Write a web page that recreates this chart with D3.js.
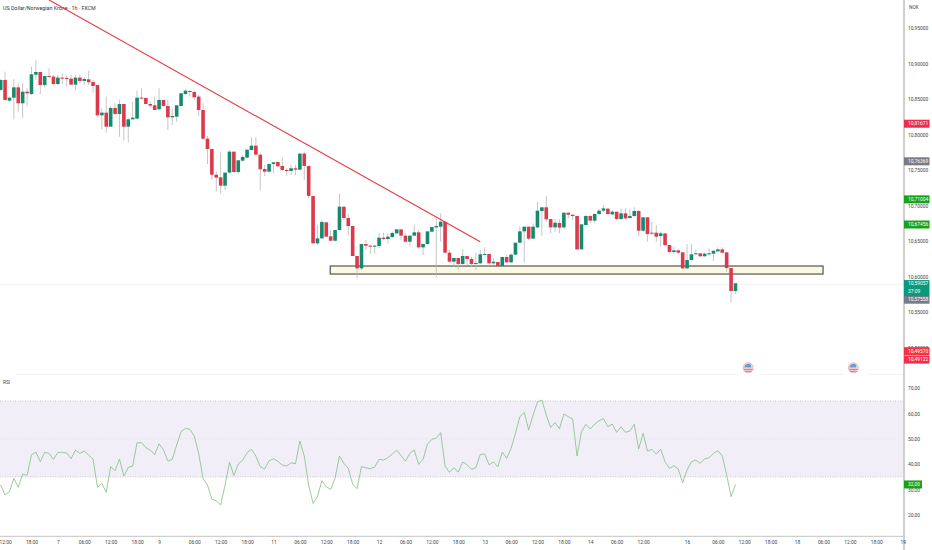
<!DOCTYPE html>
<html>
<head>
<meta charset="utf-8">
<script src="https://cdn.jsdelivr.net/npm/d3@7"></script>
<style>
    html, body { margin: 0; padding: 0; background: #fff; overflow: hidden; }
    svg { display: block; }
    text { font-family: Roboto, "Liberation Sans", sans-serif; }
</style>
</head>
<body>
<svg id="chart"></svg>
<script>
// hourly candles
const opens = [
    10.8632,10.8773,10.8481,10.8523,10.8669,10.8444,10.8608,10.8575,10.8848,10.8885,
    10.8702,10.8829,10.8820,10.8716,10.8806,10.8801,10.8791,10.8707,10.8806,10.8759,
    10.8782,10.8744,10.8702,10.8274,10.8312,10.8114,10.8378,10.8293,10.8434,10.8114,
    10.8218,10.8227,10.8523,10.8519,10.8434,10.8415,10.8359,10.8491,10.8406,10.8246,
    10.8255,10.8406,10.8575,10.8617,10.8603,10.8538,10.8349,10.7945,10.7799,10.7437,
    10.7400,10.7282,10.7466,10.7762,10.7475,10.7635,10.7677,10.7785,10.7846,10.7719,
    10.7517,10.7480,10.7588,10.7616,10.7560,10.7503,10.7489,10.7527,10.7508,10.7734,
    10.7560,10.7136,10.6469,10.6539,10.6765,10.6568,10.6506,10.6657,10.6986,10.6826,
    10.6713,10.6290,10.6116,10.6460,10.6436,10.6422,10.6431,10.6549,10.6530,10.6558,
    10.6610,10.6666,10.6577,10.6492,10.6577,10.6624,10.6412,10.6460,10.6633,10.6694,
    10.6704,10.6774,10.6337,10.6210,10.6262,10.6178,10.6290,10.6248,10.6178,10.6187,
    10.6309,10.6319,10.6187,10.6206,10.6149,10.6276,10.6201,10.6309,10.6478,10.6638,
    10.6704,10.6535,10.6694,10.6925,10.6977,10.6812,10.6694,10.6756,10.6694,10.6901,
    10.6873,10.6854,10.6384,10.6727,10.6854,10.6789,10.6883,10.6930,10.6958,10.6878,
    10.6915,10.6812,10.6892,10.6826,10.6854,10.6925,10.6647,10.6836,10.6619,10.6619,
    10.6572,10.6610,10.6445,10.6347,10.6370,10.6342,10.6116,10.6234,10.6314,10.6328,
    10.6286,10.6319,10.6323,10.6356,10.6384,10.6342,10.6121,10.5797
];
const highs = [
    10.8782,10.8890,10.8538,10.8782,10.8726,10.8726,10.8655,10.8961,10.9055,10.8885,
    10.8829,10.8937,10.8843,10.8843,10.8867,10.8843,10.8843,10.8843,10.8843,10.8810,
    10.8900,10.8773,10.8702,10.8373,10.8538,10.8406,10.8444,10.8491,10.8434,10.8232,
    10.8467,10.8622,10.8655,10.8519,10.8467,10.8538,10.8655,10.8491,10.8491,10.8373,
    10.8415,10.8585,10.8641,10.8632,10.8622,10.8561,10.8444,10.7983,10.7799,10.7480,
    10.7762,10.7466,10.7785,10.7762,10.7640,10.7715,10.7790,10.7964,10.7964,10.7748,
    10.7574,10.7597,10.7611,10.7621,10.7682,10.7527,10.7574,10.7574,10.7738,10.7762,
    10.7560,10.7136,10.6727,10.6798,10.6765,10.6657,10.6657,10.7174,10.6986,10.6883,
    10.6713,10.6290,10.6460,10.6516,10.6445,10.6445,10.6619,10.6619,10.6610,10.6633,
    10.6666,10.6666,10.6610,10.6577,10.6727,10.6657,10.6460,10.6638,10.6699,10.6845,
    10.6892,10.6774,10.6375,10.6262,10.6262,10.6384,10.6290,10.6281,10.6337,10.6375,
    10.6412,10.6319,10.6257,10.6206,10.6281,10.6305,10.6328,10.6478,10.6704,10.6704,
    10.6704,10.6751,10.7056,10.6977,10.7136,10.6812,10.6807,10.6807,10.6901,10.6901,
    10.6873,10.6854,10.6737,10.6868,10.6868,10.6892,10.6948,10.7009,10.6962,10.6939,
    10.6915,10.6962,10.6962,10.6948,10.6977,10.6939,10.6836,10.6836,10.6774,10.6727,
    10.6633,10.6610,10.6445,10.6422,10.6384,10.6342,10.6460,10.6460,10.6375,10.6328,
    10.6337,10.6398,10.6365,10.6412,10.6412,10.6342,10.6121,10.5896
];
const lows = [
    10.8622,10.8481,10.8467,10.8218,10.8326,10.8232,10.8406,10.8561,10.8773,10.8575,
    10.8669,10.8810,10.8702,10.8702,10.8716,10.8679,10.8702,10.8632,10.8726,10.8702,
    10.8702,10.8594,10.8255,10.8077,10.8030,10.8114,10.8279,10.7973,10.7917,10.7889,
    10.8218,10.8218,10.8500,10.8434,10.8387,10.8349,10.8349,10.8397,10.8067,10.8138,
    10.8185,10.8406,10.8561,10.8538,10.8491,10.8265,10.7926,10.7588,10.7362,10.7198,
    10.7174,10.7221,10.7456,10.7466,10.7447,10.7621,10.7668,10.7785,10.7715,10.7212,
    10.7419,10.7466,10.7456,10.7550,10.7494,10.7423,10.7433,10.7433,10.7503,10.7362,
    10.7104,10.6455,10.6445,10.6539,10.6563,10.6492,10.6492,10.6647,10.6798,10.6586,
    10.6290,10.5975,10.6093,10.6375,10.6319,10.6328,10.6398,10.6516,10.6469,10.6539,
    10.6596,10.6516,10.6483,10.6431,10.6577,10.6398,10.6305,10.6445,10.6624,10.5989,
    10.6492,10.6328,10.6196,10.6140,10.6093,10.6149,10.6163,10.6140,10.6093,10.6178,
    10.6305,10.6178,10.6163,10.6140,10.6140,10.6196,10.6187,10.6305,10.6469,10.6196,
    10.6516,10.6535,10.6680,10.6577,10.6774,10.6610,10.6633,10.6610,10.6666,10.6821,
    10.6798,10.6375,10.6384,10.6727,10.6751,10.6751,10.6868,10.6911,10.6868,10.6868,
    10.6798,10.6798,10.6807,10.6821,10.6845,10.6572,10.6633,10.6492,10.6586,10.6492,
    10.6422,10.6431,10.6328,10.6319,10.6319,10.6107,10.6102,10.6224,10.6305,10.6281,
    10.6281,10.6290,10.6220,10.6351,10.6328,10.6069,10.5632,10.5754
];
const closes = [
    10.8773,10.8491,10.8523,10.8669,10.8444,10.8608,10.8585,10.8853,10.8885,10.8702,
    10.8829,10.8820,10.8716,10.8806,10.8796,10.8791,10.8707,10.8806,10.8759,10.8787,
    10.8740,10.8688,10.8274,10.8312,10.8114,10.8378,10.8293,10.8434,10.8114,10.8218,
    10.8241,10.8523,10.8514,10.8434,10.8411,10.8349,10.8491,10.8406,10.8246,10.8265,
    10.8415,10.8585,10.8622,10.8608,10.8528,10.8349,10.7945,10.7799,10.7437,10.7395,
    10.7282,10.7466,10.7762,10.7475,10.7640,10.7687,10.7790,10.7846,10.7719,10.7513,
    10.7480,10.7588,10.7611,10.7555,10.7503,10.7489,10.7527,10.7508,10.7734,10.7560,
    10.7137,10.6469,10.6539,10.6770,10.6563,10.6506,10.6657,10.6986,10.6826,10.6713,
    10.6290,10.6116,10.6460,10.6436,10.6422,10.6436,10.6549,10.6530,10.6563,10.6615,
    10.6666,10.6577,10.6492,10.6577,10.6624,10.6412,10.6460,10.6638,10.6699,10.6713,
    10.6774,10.6337,10.6210,10.6262,10.6178,10.6290,10.6248,10.6178,10.6192,10.6314,
    10.6319,10.6187,10.6210,10.6149,10.6276,10.6201,10.6309,10.6478,10.6638,10.6704,
    10.6535,10.6704,10.6930,10.6977,10.6807,10.6694,10.6760,10.6690,10.6901,10.6873,
    10.6854,10.6384,10.6737,10.6854,10.6789,10.6883,10.6930,10.6962,10.6883,10.6915,
    10.6812,10.6892,10.6821,10.6854,10.6925,10.6647,10.6836,10.6600,10.6605,10.6563,
    10.6610,10.6445,10.6347,10.6370,10.6337,10.6116,10.6234,10.6314,10.6328,10.6286,
    10.6323,10.6328,10.6365,10.6384,10.6337,10.6121,10.5797,10.5906
];
const rsiValues = [
    31.76,27.81,29.12,34.40,30.84,36.11,35.58,43.75,44.81,40.99,
    44.68,44.28,41.91,44.68,44.68,44.41,42.17,45.60,44.28,45.20,
    43.62,42.04,30.84,32.42,28.86,39.01,37.43,42.04,35.32,38.74,
    39.27,48.50,48.50,46.52,45.60,43.75,48.10,45.60,41.25,41.91,
    47.58,52.85,54.17,53.77,51.13,44.28,34.26,31.76,26.09,25.56,
    23.85,31.76,40.72,35.58,40.06,41.64,44.54,45.86,43.23,39.01,
    38.09,41.38,42.17,41.12,39.67,39.27,40.59,40.20,49.16,43.23,
    31.76,24.51,27.15,33.47,31.10,30.05,34.40,43.23,40.33,38.35,
    32.15,30.31,39.01,38.61,38.22,38.88,41.91,41.64,42.57,44.02,
    45.60,43.36,41.25,44.28,45.60,39.93,41.91,47.97,49.81,50.34,
    52.45,39.27,36.77,38.61,36.90,40.85,39.80,37.95,38.61,43.88,
    44.02,39.80,40.85,39.01,44.81,42.30,46.26,52.19,58.78,60.49,
    53.51,59.44,64.58,65.37,59.44,54.56,56.40,54.03,59.83,58.78,
    57.86,43.23,52.85,55.75,53.90,55.88,57.20,57.99,54.82,55.88,
    52.59,54.83,52.59,53.11,55.75,46.00,52.19,45.20,45.86,44.02,
    45.86,40.99,38.35,39.41,38.09,32.68,37.69,40.99,41.65,40.33,
    42.17,42.57,44.28,45.34,43.23,35.72,27.15,32.00
];

const timeTickBars = [1,7,13,19,25,31,36,44,50,56,62,68,74,80,86,92,98,104,110,116,122,128,134,140,146,156,163,169,175,181,187,193,199,205];
const timeTickLabels = ["12:00","18:00","7","06:00","12:00","18:00","9","06:00","12:00","18:00","11","06:00","12:00","18:00","12","06:00","12:00","18:00","13","06:00","12:00","18:00","14","06:00","12:00","16","06:00","12:00","18:00","18","06:00","12:00","18:00","19"];
const priceTicks = [10.95,10.90,10.85,10.80,10.75,10.70,10.65,10.60,10.55,10.50];
const rsiTicks = [70,60,50,40,30,20];

// drawings on the chart
const trendBars = [11,109];
const trendPrices = [10.99,10.6492];
const zoneBars = [74.9,186.9];
const zonePrices = [10.6149,10.6036];
const eventBars = [169.9,193.8];
const lastPrice = 10.59057;

const width = 932;
const height = 550;
const axisX = 904;
const red = "#dc3a4c";
const green = "#17896e";

let svg = d3.select("#chart").attr("width", width).attr("height", height);

let scX = d3.scaleLinear().domain([0,205]).range([0.67,902.67]);
let scY = d3.scaleLinear().domain([10.5,10.95]).range([347.5,28.4]);
let scRsi = d3.scaleLinear().domain([20,70]).range([514.8,388.3]);

let candles = opens.map((o,i) => ({i, o, h: highs[i], l: lows[i], c: closes[i]}));

// header
svg.append("text").attr("x",3).attr("y",10).attr("font-size",5.3).attr("fill","#333")
    .text("US Dollar/Norwegian Krone · 1h · FXCM");

// last price line
svg.append("line").attr("x1",0).attr("x2",axisX).attr("y1",scY(lastPrice)+1).attr("y2",scY(lastPrice)+1)
    .attr("stroke","#ececec").attr("stroke-width",0.8);

// zone box goes under the candles
svg.append("rect")
    .attr("x",scX(zoneBars[0])).attr("width",scX(zoneBars[1])-scX(zoneBars[0]))
    .attr("y",scY(zonePrices[0])).attr("height",scY(zonePrices[1])-scY(zonePrices[0]))
    .attr("fill","#fbf9e4").attr("stroke","#55554a").attr("stroke-width",1.2);

// wicks
svg.selectAll(".wick").data(candles).enter().append("line")
    .attr("class","wick")
    .attr("x1",d => scX(d.i)).attr("x2",d => scX(d.i))
    .attr("y1",d => scY(d.h)).attr("y2",d => scY(d.l))
    .attr("stroke","#b8b8b8").attr("stroke-width",0.8);

// bodies
svg.selectAll(".body").data(candles).enter().append("rect")
    .attr("class","body")
    .attr("x",d => scX(d.i)-1.8).attr("width",3.6)
    .attr("y",d => scY(Math.max(d.o,d.c)))
    .attr("height",d => Math.max(1,Math.abs(scY(d.o)-scY(d.c))))
    .attr("fill",d => d.c >= d.o ? green : red);

// trend line
let trendLine = d3.line().x(d => scX(d[0])).y(d => scY(d[1]));
svg.append("path").datum(d3.zip(trendBars,trendPrices))
    .attr("d",trendLine).attr("fill","none").attr("stroke","#e53a3f").attr("stroke-width",1.1);

// pane separator
svg.append("line").attr("x1",16).attr("x2",axisX).attr("y1",374.5).attr("y2",374.5)
    .attr("stroke","#eeeeee").attr("stroke-width",0.8);

// event flags
eventBars.forEach(b => {
    let cx = scX(b), cy = 367.8;
    svg.append("rect").attr("x",cx-10).attr("y",370).attr("width",24).attr("height",8).attr("fill","#fff");
    svg.append("circle").attr("cx",cx).attr("cy",cy).attr("r",5).attr("fill","#f9e6e7").attr("stroke","#e58a92").attr("stroke-width",0.6);
    svg.append("rect").attr("x",cx-4.2).attr("y",cy+1).attr("width",8.4).attr("height",1).attr("fill","#e0606a");
    svg.append("rect").attr("x",cx-3.4).attr("y",cy+3).attr("width",6.8).attr("height",0.9).attr("fill","#e0606a");
    svg.append("path").attr("d",`M${cx-4},${cy-0.3}A4,4 0 0 1 ${cx+3},${cy-2.6}L${cx+3},${cy-0.3}Z`).attr("fill","#6c9bd2");
});

// RSI pane
svg.append("text").attr("x",3).attr("y",383.5).attr("font-size",4.8).attr("fill","#444").text("RSI");
svg.append("rect").attr("x",0).attr("width",axisX)
    .attr("y",scRsi(65)).attr("height",scRsi(35)-scRsi(65)).attr("fill","#f1eef8");
[65,35].forEach(v => {
    svg.append("line").attr("x1",0).attr("x2",axisX).attr("y1",scRsi(v)).attr("y2",scRsi(v))
        .attr("stroke","#b5b5b5").attr("stroke-width",0.7).attr("stroke-dasharray","1 1.5");
});
svg.append("line").attr("x1",0).attr("x2",895).attr("y1",scRsi(50)).attr("y2",scRsi(50))
    .attr("stroke","#dcdae4").attr("stroke-width",0.6).attr("stroke-dasharray","1.5 1.5");

// faint tint where RSI drops under the band
svg.append("clipPath").attr("id","below").append("rect")
    .attr("x",0).attr("y",scRsi(35)).attr("width",axisX).attr("height",60);
let rsiArea = d3.area().x((d,i) => scX(i)).y0(scRsi(35)).y1(d => scRsi(d));
svg.append("path").datum(rsiValues).attr("d",rsiArea)
    .attr("clip-path","url(#below)").attr("fill","#f6c9c0").attr("opacity",0.05);

let rsiLine = d3.line().x((d,i) => scX(i)).y(d => scRsi(d));
svg.append("path").datum(rsiValues).attr("d",rsiLine)
    .attr("fill","none").attr("stroke","#84be88").attr("stroke-width",0.8);

// axes
svg.append("line").attr("x1",axisX).attr("x2",axisX).attr("y1",0).attr("y2",height)
    .attr("stroke","#cfcfcf").attr("stroke-width",2);
svg.append("line").attr("x1",0).attr("x2",axisX).attr("y1",536.4).attr("y2",536.4)
    .attr("stroke","#cfcfcf").attr("stroke-width",1.2);

let styleAxis = (g) => {
    g.select(".domain").remove();
    g.selectAll("line").remove();
    g.selectAll("text").attr("fill","#444").attr("font-size",4.9).attr("font-family",null);
};

let axisBottom = d3.axisBottom(scX).tickValues(timeTickBars)
    .tickFormat((d,i) => timeTickLabels[i]).tickSize(0).tickPadding(0);
svg.append("g").attr("transform","translate(0,541)").call(axisBottom).call(styleAxis);

let axisPrice = d3.axisRight(scY).tickValues(priceTicks)
    .tickFormat(d => d3.format(".5f")(d).replace(".",",")).tickSize(0).tickPadding(0);
svg.append("g").attr("transform","translate(908,0)").call(axisPrice).call(styleAxis);

let axisRsi = d3.axisRight(scRsi).tickValues(rsiTicks)
    .tickFormat(d => d + ",00").tickSize(0).tickPadding(0);
svg.append("g").attr("transform","translate(908,0)").call(axisRsi).call(styleAxis);

svg.append("text").attr("x",909).attr("y",9.3).attr("font-size",4.9).attr("fill","#444").text("NOK");

// price tags on the axis: value, colour, shift off the true price so they do not overlap
const tagValues = [10.81671,10.76369,10.71004,10.67456,10.57558,10.49570,10.49122];
const tagColors = ["#e8304a","#787b86","#16a31a","#16a31a","#787b86","#f5333f","#f0304a"];
const tagShifts = [0.8,0.8,0.8,0.8,5.8,0.6,5.9];

tagValues.forEach((v,i) => {
    let cy = scY(v) + tagShifts[i];
    svg.append("rect").attr("x",axisX).attr("y",cy-4).attr("width",25.5).attr("height",8).attr("fill",tagColors[i]);
    svg.append("text").attr("x",908).attr("y",cy+1.7).attr("font-size",4.9).attr("fill","#fff")
        .text(d3.format(".5f")(v).replace(".",","));
});

// current price tag with countdown
let lastY = scY(lastPrice);
svg.append("rect").attr("x",axisX).attr("y",lastY-3.2).attr("width",25.5).attr("height",16).attr("fill","#089981");
svg.append("text").attr("x",908).attr("y",lastY+1.8).attr("font-size",4.9).attr("fill","#fff")
    .text(d3.format(".5f")(lastPrice).replace(".",","));
svg.append("text").attr("x",908).attr("y",lastY+9.8).attr("font-size",4.9).attr("fill","#fff").text("37:09");

// RSI value tag
svg.append("rect").attr("x",axisX).attr("y",scRsi(32)-4).attr("width",18).attr("height",8).attr("fill","#16a31a");
svg.append("text").attr("x",908).attr("y",scRsi(32)+1.7).attr("font-size",4.9).attr("fill","#fff").text("32,00");
</script>
</body>
</html>
